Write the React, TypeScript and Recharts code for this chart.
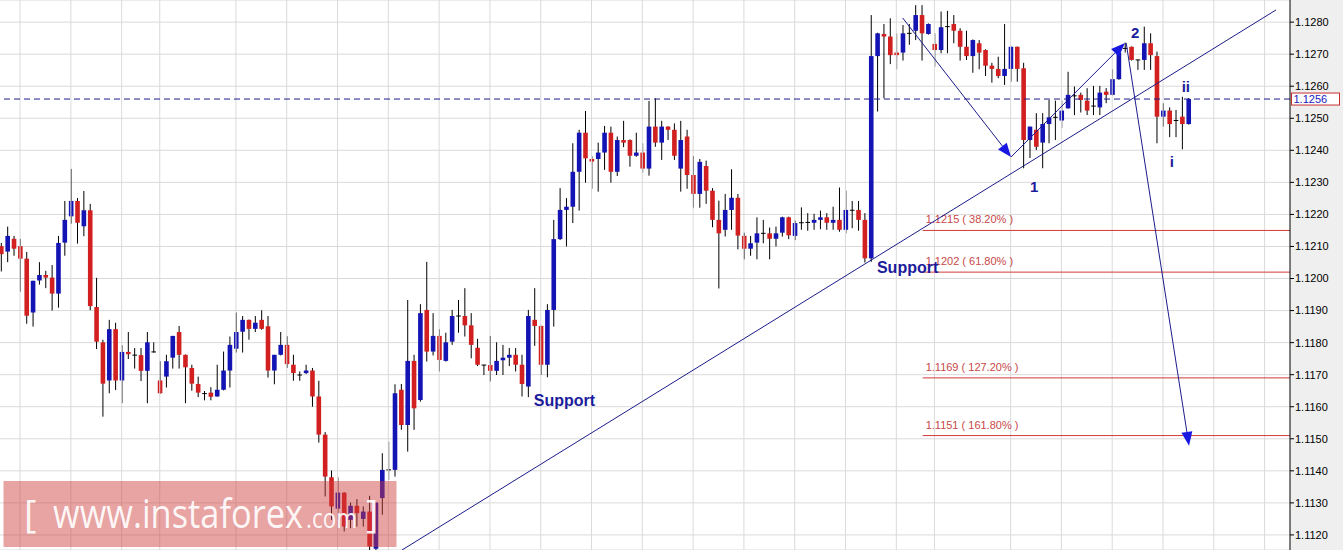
import React from 'react';
import { ComposedChart, Bar, XAxis, YAxis, CartesianGrid, ReferenceLine, ReferenceDot } from 'recharts';

const opens = [
  1.12101, 1.12084, 1.12124, 1.12101, 1.12062, 1.11894, 1.11994, 1.12011, 1.12003, 1.11953,
  1.12112, 1.12194, 1.12242, 1.12163, 1.12213, 1.11911, 1.11801, 1.11682, 1.11842, 1.11682,
  1.11771, 1.11761, 1.11761, 1.11712, 1.11771, 1.11682, 1.11694, 1.11753, 1.11833, 1.11762,
  1.11721, 1.11671, 1.11641, 1.11644, 1.11632, 1.11653, 1.11713, 1.11781, 1.11834, 1.11871,
  1.11843, 1.11871, 1.11851, 1.11713, 1.11762, 1.11793, 1.11731, 1.11699, 1.11705, 1.11713,
  1.11632, 1.11513, 1.11380, 1.11282, 1.11332, 1.11247, 1.11291, 1.11250, 1.11273, 1.11157,
  1.11315, 1.11403, 1.11403, 1.11653, 1.11543, 1.11743, 1.11621, 1.11902, 1.11772, 1.11821,
  1.11743, 1.11803, 1.11883, 1.11883, 1.11854, 1.11784, 1.11730, 1.11730, 1.11712, 1.11745,
  1.11753, 1.11762, 1.11731, 1.11663, 1.11871, 1.11852, 1.11731, 1.11902, 1.12123, 1.12214,
  1.12224, 1.12333, 1.12455, 1.12373, 1.12373, 1.12393, 1.12455, 1.12333, 1.12432, 1.12432,
  1.12383, 1.12393, 1.12343, 1.12474, 1.12424, 1.12474, 1.12464, 1.12343, 1.12443, 1.12323,
  1.12264, 1.12351, 1.12274, 1.12183, 1.12152, 1.12214, 1.12252, 1.12133, 1.12093, 1.12112,
  1.12141, 1.12141, 1.12124, 1.12143, 1.12191, 1.12133, 1.12174, 1.12174, 1.12174, 1.12183,
  1.12191, 1.12174, 1.12183, 1.12152, 1.12212, 1.12214, 1.12183, 1.12063, 1.12694, 1.12763,
  1.12755, 1.12705, 1.12705, 1.12765, 1.12773, 1.12822, 1.12763, 1.12732, 1.12713, 1.12786,
  1.12794, 1.12773, 1.12723, 1.12694, 1.12734, 1.12713, 1.12664, 1.12654, 1.12632, 1.12654,
  1.12723, 1.12656, 1.12432, 1.12464, 1.12424, 1.12482, 1.12503, 1.12493, 1.12531, 1.12570,
  1.12573, 1.12555, 1.12538, 1.12534, 1.12583, 1.12573, 1.12622, 1.12718, 1.12723, 1.12682,
  1.12682, 1.12734, 1.12694, 1.12505, 1.12524, 1.12493, 1.12505, 1.12482,
];

const highs = [
  1.12111, 1.12162, 1.12133, 1.12124, 1.12083, 1.11993, 1.12051, 1.12024, 1.12042, 1.12133,
  1.12242, 1.12342, 1.12251, 1.12273, 1.12233, 1.12002, 1.11809, 1.11871, 1.11862, 1.11792,
  1.11833, 1.11783, 1.11783, 1.11833, 1.11801, 1.11742, 1.11762, 1.11821, 1.11852, 1.11763,
  1.11731, 1.11694, 1.11649, 1.11661, 1.11731, 1.11772, 1.11819, 1.11894, 1.11883, 1.11872,
  1.11883, 1.11901, 1.11883, 1.11762, 1.11833, 1.11820, 1.11762, 1.11710, 1.11731, 1.11721,
  1.11681, 1.11521, 1.11401, 1.11380, 1.11333, 1.11301, 1.11312, 1.11289, 1.11322, 1.11301,
  1.11455, 1.11491, 1.11670, 1.11671, 1.11933, 1.11762, 1.11920, 1.12052, 1.11892, 1.11842,
  1.11831, 1.11902, 1.11933, 1.11970, 1.11892, 1.11812, 1.11731, 1.11821, 1.11801, 1.11793,
  1.11783, 1.11783, 1.11762, 1.11902, 1.11970, 1.11853, 1.11920, 1.12183, 1.12282, 1.12251,
  1.12422, 1.12464, 1.12523, 1.12382, 1.12424, 1.12476, 1.12474, 1.12443, 1.12492, 1.12434,
  1.12455, 1.12422, 1.12554, 1.12562, 1.12492, 1.12475, 1.12484, 1.12492, 1.12464, 1.12382,
  1.12373, 1.12368, 1.12282, 1.12243, 1.12264, 1.12341, 1.12264, 1.12143, 1.12133, 1.12191,
  1.12183, 1.12159, 1.12162, 1.12193, 1.12193, 1.12181, 1.12222, 1.12204, 1.12202, 1.12212,
  1.12204, 1.12224, 1.12284, 1.12274, 1.12242, 1.12242, 1.12204, 1.12822, 1.12767, 1.12794,
  1.12812, 1.12765, 1.12791, 1.12794, 1.12853, 1.12853, 1.12796, 1.12765, 1.12833, 1.12835,
  1.12822, 1.12781, 1.12773, 1.12746, 1.12744, 1.12715, 1.12673, 1.12692, 1.12794, 1.12724,
  1.12724, 1.12673, 1.12474, 1.12516, 1.12516, 1.12557, 1.12555, 1.12555, 1.12645, 1.12599,
  1.12580, 1.12594, 1.12601, 1.12601, 1.12594, 1.12653, 1.12706, 1.12736, 1.12724, 1.12683,
  1.12786, 1.12765, 1.12708, 1.12547, 1.12534, 1.12526, 1.12567, 1.12563,
];

const lows = [
  1.12022, 1.12051, 1.12071, 1.11959, 1.11859, 1.11850, 1.11981, 1.11970, 1.11900, 1.11909,
  1.12071, 1.12171, 1.12109, 1.12132, 1.11901, 1.11780, 1.11569, 1.11642, 1.11652, 1.11611,
  1.11749, 1.11719, 1.11680, 1.11611, 1.11769, 1.11640, 1.11660, 1.11719, 1.11719, 1.11611,
  1.11650, 1.11630, 1.11620, 1.11620, 1.11631, 1.11651, 1.11660, 1.11769, 1.11769, 1.11809,
  1.11833, 1.11840, 1.11691, 1.11670, 1.11760, 1.11721, 1.11681, 1.11681, 1.11702, 1.11600,
  1.11488, 1.11320, 1.11247, 1.11247, 1.11211, 1.11221, 1.11226, 1.11226, 1.11147, 1.11138,
  1.11263, 1.11372, 1.11382, 1.11528, 1.11460, 1.11528, 1.11616, 1.11741, 1.11760, 1.11710,
  1.11741, 1.11793, 1.11831, 1.11819, 1.11751, 1.11727, 1.11699, 1.11679, 1.11699, 1.11699,
  1.11727, 1.11710, 1.11632, 1.11630, 1.11790, 1.11699, 1.11692, 1.11850, 1.12120, 1.12100,
  1.12173, 1.12212, 1.12299, 1.12280, 1.12271, 1.12339, 1.12299, 1.12320, 1.12410, 1.12349,
  1.12380, 1.12330, 1.12321, 1.12411, 1.12370, 1.12432, 1.12370, 1.12271, 1.12280, 1.12221,
  1.12221, 1.12233, 1.12160, 1.11969, 1.12131, 1.12152, 1.12091, 1.12060, 1.12071, 1.12060,
  1.12110, 1.12060, 1.12100, 1.12131, 1.12123, 1.12120, 1.12152, 1.12149, 1.12152, 1.12154,
  1.12152, 1.12152, 1.12146, 1.12141, 1.12157, 1.12149, 1.12050, 1.12052, 1.12521, 1.12562,
  1.12669, 1.12653, 1.12680, 1.12729, 1.12744, 1.12680, 1.12761, 1.12661, 1.12703, 1.12703,
  1.12734, 1.12680, 1.12682, 1.12642, 1.12653, 1.12632, 1.12611, 1.12625, 1.12604, 1.12614,
  1.12614, 1.12344, 1.12376, 1.12401, 1.12344, 1.12422, 1.12432, 1.12469, 1.12530, 1.12510,
  1.12518, 1.12510, 1.12510, 1.12510, 1.12547, 1.12571, 1.12620, 1.12705, 1.12680, 1.12651,
  1.12651, 1.12651, 1.12422, 1.12474, 1.12441, 1.12441, 1.12403, 1.12480,
];

const closes = [
  1.12076, 1.12133, 1.12093, 1.12062, 1.11884, 1.11993, 1.12011, 1.12003, 1.11953, 1.12111,
  1.12183, 1.12242, 1.12174, 1.12213, 1.11914, 1.11803, 1.11672, 1.11842, 1.11682, 1.11771,
  1.11764, 1.11760, 1.11712, 1.11801, 1.11770, 1.11642, 1.11742, 1.11821, 1.11762, 1.11723,
  1.11672, 1.11644, 1.11640, 1.11631, 1.11653, 1.11713, 1.11793, 1.11833, 1.11871, 1.11843,
  1.11862, 1.11843, 1.11713, 1.11762, 1.11793, 1.11733, 1.11705, 1.11698, 1.11713, 1.11632,
  1.11513, 1.11382, 1.11289, 1.11332, 1.11226, 1.11291, 1.11268, 1.11273, 1.11164, 1.11301,
  1.11403, 1.11402, 1.11642, 1.11543, 1.11743, 1.11595, 1.11892, 1.11772, 1.11821, 1.11746,
  1.11801, 1.11883, 1.11882, 1.11854, 1.11793, 1.11731, 1.11729, 1.11712, 1.11743, 1.11753,
  1.11762, 1.11731, 1.11671, 1.11883, 1.11852, 1.11731, 1.11902, 1.12123, 1.12214, 1.12224,
  1.12333, 1.12455, 1.12375, 1.12365, 1.12393, 1.12455, 1.12333, 1.12432, 1.12424, 1.12383,
  1.12393, 1.12343, 1.12474, 1.12424, 1.12474, 1.12464, 1.12383, 1.12432, 1.12323, 1.12264,
  1.12364, 1.12274, 1.12183, 1.12141, 1.12214, 1.12252, 1.12134, 1.12093, 1.12110, 1.12141,
  1.12140, 1.12124, 1.12141, 1.12191, 1.12135, 1.12173, 1.12173, 1.12175, 1.12183, 1.12191,
  1.12174, 1.12183, 1.12152, 1.12214, 1.12213, 1.12183, 1.12063, 1.12694, 1.12765, 1.12755,
  1.12697, 1.12697, 1.12765, 1.12764, 1.12822, 1.12765, 1.12794, 1.12713, 1.12784, 1.12785,
  1.12773, 1.12723, 1.12694, 1.12744, 1.12705, 1.12664, 1.12654, 1.12632, 1.12654, 1.12723,
  1.12654, 1.12432, 1.12474, 1.12411, 1.12482, 1.12503, 1.12502, 1.12524, 1.12573, 1.12569,
  1.12557, 1.12524, 1.12537, 1.12580, 1.12573, 1.12622, 1.12705, 1.12717, 1.12682, 1.12681,
  1.12734, 1.12697, 1.12505, 1.12524, 1.12482, 1.12492, 1.12482, 1.12560,
];

const priceTicks = [
  1.112, 1.113, 1.114, 1.115, 1.116, 1.117, 1.118, 1.119, 1.12,
  1.121, 1.122, 1.123, 1.124, 1.125, 1.126, 1.127, 1.128,
];
const gridBars = [3, 11, 19, 25, 37, 45, 53, 61, 69, 77, 85, 93, 101, 109, 117, 125, 133, 141, 147, 159, 167, 175, 183, 191, 199];
const fibPrices = [1.1215, 1.1202, 1.1169, 1.1151];
const fibLabels = ['1.1215 ( 38.20% )', '1.1202 ( 61.80% )', '1.1169 ( 127.20% )', '1.1151 ( 161.80% )'];
const fibStartBar = 145.15;
const currentPrice = 1.1256;
const xDomain = [-0.1575, 203.0];
const yDomain = [1.11153, 1.12869];
const trendLine = [{ x: 63.15, y: 1.11153 }, { x: 200.8, y: 1.12838 }];
const arrowSegments = [
  { from: { x: 142.0, y: 1.12813 }, to: { x: 159.06, y: 1.12379 } },
  { from: { x: 159.06, y: 1.12379 }, to: { x: 177.0, y: 1.12735 } },
  { from: { x: 177.2, y: 1.12735 }, to: { x: 187.1, y: 1.11478 } },
];
const waveLabels = [
  { text: '1', x: 162.7, y: 1.12286 },
  { text: '2', x: 178.6, y: 1.12769 },
  { text: 'i', x: 184.4, y: 1.12364 },
  { text: 'ii', x: 186.6, y: 1.12598 },
];
const supportLabels = [
  { text: 'Support', x: 83.9, y: 1.11621 },
  { text: 'Support', x: 137.95, y: 1.12033 },
];

const BLUE = '#1414b4';
const RED = '#d21f1f';
const NAVY = '#1c1c8a';
const GRID = '#dadada';
const FONT = '"Liberation Sans", Arial, sans-serif';

const Candle = (props: any) => {
  const { x, width, y, height, payload } = props;
  if (!payload) return null;
  const { o, h, l, c } = payload;
  const top = Math.min(y, y + height);
  const hgt = Math.abs(height);
  const k = h - l > 0 ? hgt / (h - l) : 0;
  const cx = x + width / 2;
  const yO = top + (h - o) * k;
  const yC = top + (h - c) * k;
  const bTop = Math.min(yO, yC);
  const bH = Math.abs(yO - yC);
  const bw = 4.6;
  const up = c >= o;
  return (
    <g>
      <line x1={cx} x2={cx} y1={top} y2={top + hgt} stroke="#000" strokeWidth={1} />
      {bH < 1 ? (
        <line x1={cx - bw / 2} x2={cx + bw / 2} y1={bTop} y2={bTop} stroke="#000" strokeWidth={1} />
      ) : (
        <rect x={cx - bw / 2} y={bTop} width={bw} height={Math.max(bH, 1)} fill={up ? BLUE : RED} />
      )}
    </g>
  );
};

const arrowShape = (props: any) => {
  const { x1, y1, x2, y2 } = props;
  const dx = x2 - x1;
  const dy = y2 - y1;
  const len = Math.sqrt(dx * dx + dy * dy) || 1;
  const ux = dx / len;
  const uy = dy / len;
  const L = 14;
  const W = 5.5;
  const bx = x2 - ux * L;
  const by = y2 - uy * L;
  const nx = -uy;
  const ny = ux;
  const pts = `${x2},${y2} ${bx + nx * W},${by + ny * W} ${bx - nx * W},${by - ny * W}`;
  return (
    <g>
      <line x1={x1} y1={y1} x2={bx} y2={by} stroke={NAVY} strokeWidth={1} />
      <polygon points={pts} fill="#1818e0" />
    </g>
  );
};

const makeFibShape = (label: string) => (props: any) => {
  const { x1, y1, x2, y2 } = props;
  const left = Math.min(x1, x2);
  return (
    <g>
      <line x1={x1} y1={y1} x2={x2} y2={y2} stroke="#d03a3a" strokeWidth={1} />
      <text x={left + 3} y={y1 - 7} fill="#c84848" fontSize={11} fontFamily={FONT}>{label}</text>
    </g>
  );
};

const currentShape = (props: any) => {
  const { x1, y1, x2, y2 } = props;
  const right = Math.max(x1, x2);
  return (
    <g>
      <line x1={x1} y1={y1} x2={x2} y2={y2} stroke={NAVY} strokeWidth={1} strokeDasharray="6 4" />
      <rect x={right + 1.5} y={y1 - 6} width={48} height={12} fill="#fff" stroke="#c83030" strokeWidth={1} />
      <text x={right + 3.5} y={y1 + 4} fill="#2020c0" fontSize={11} fontFamily={FONT}>{currentPrice.toFixed(4)}</text>
    </g>
  );
};

const makeTextShape = (text: string, anchor: string) => (props: any) => (
  <text
    x={props.cx}
    y={props.cy}
    textAnchor={anchor as any}
    dominantBaseline="central"
    fill="#1c1c9c"
    fontSize={anchor === 'start' ? 16 : 15}
    fontWeight="bold"
    fontFamily={FONT}
  >
    {text}
  </text>
);

export default function App() {
  const data = opens.map((o, i) => ({
    i,
    o,
    h: highs[i],
    l: lows[i],
    c: closes[i],
    range: [lows[i], highs[i]],
  }));

  return (
    <div style={{ position: 'absolute', left: 0, top: 0, width: 1343, height: 550, background: '#efefef', overflow: 'hidden' }}>
      <ComposedChart width={1343} height={550} data={data} margin={{ top: 0, right: 0, bottom: 0, left: 0 }}>
        <CartesianGrid fill="#ffffff" stroke={GRID} vertical={false} />
        <XAxis dataKey="i" type="number" domain={xDomain} allowDataOverflow hide />
        <YAxis
          orientation="right"
          width={53}
          type="number"
          domain={yDomain}
          allowDataOverflow
          ticks={priceTicks}
          interval={0}
          tickFormatter={(v: number) => v.toFixed(4)}
          tick={{ fill: '#000', fontSize: 11, fontFamily: FONT }}
          tickSize={4}
          tickMargin={1}
          axisLine={{ stroke: '#000' }}
          tickLine={{ stroke: '#000' }}
        />
        {gridBars.map((v) => (
          <ReferenceLine key={'g' + v} x={v} stroke={GRID} strokeWidth={1} />
        ))}
        {fibPrices.map((p, k) => (
          <ReferenceLine
            key={'f' + k}
            segment={[{ x: fibStartBar, y: p }, { x: xDomain[1], y: p }]}
            shape={makeFibShape(fibLabels[k])}
            ifOverflow="visible"
          />
        ))}
        <ReferenceLine y={currentPrice} shape={currentShape} ifOverflow="visible" />
        <Bar dataKey="range" shape={Candle} barSize={5} isAnimationActive={false} />
        <ReferenceLine segment={trendLine} stroke={NAVY} strokeWidth={1} ifOverflow="visible" />
        {arrowSegments.map((a, k) => (
          <ReferenceLine key={'a' + k} segment={[a.from, a.to]} shape={arrowShape} ifOverflow="visible" />
        ))}
        {waveLabels.map((w, k) => (
          <ReferenceDot key={'w' + k} x={w.x} y={w.y} r={1} shape={makeTextShape(w.text, 'middle')} ifOverflow="visible" />
        ))}
        {supportLabels.map((s, k) => (
          <ReferenceDot key={'s' + k} x={s.x} y={s.y} r={1} shape={makeTextShape(s.text, 'start')} ifOverflow="visible" />
        ))}
      </ComposedChart>
      <svg width={1343} height={550} style={{ position: 'absolute', left: 0, top: 0, pointerEvents: 'none' }}>
        <rect x={3.5} y={481} width={393} height={66} fill="rgba(206,60,60,0.47)" />
        <text fill="#ffffff" fillOpacity={0.92} fontFamily='"Open Sans", "Noto Sans", sans-serif' y={527.7}>
          <tspan x={24} fontSize={38}>[</tspan>
          <tspan x={53} fontSize={40} textLength={250} lengthAdjust="spacingAndGlyphs">www.instaforex</tspan>
          <tspan x={306} fontSize={27} textLength={51} lengthAdjust="spacingAndGlyphs">.com</tspan>
          <tspan x={366} fontSize={38}>]</tspan>
        </text>
      </svg>
    </div>
  );
}
